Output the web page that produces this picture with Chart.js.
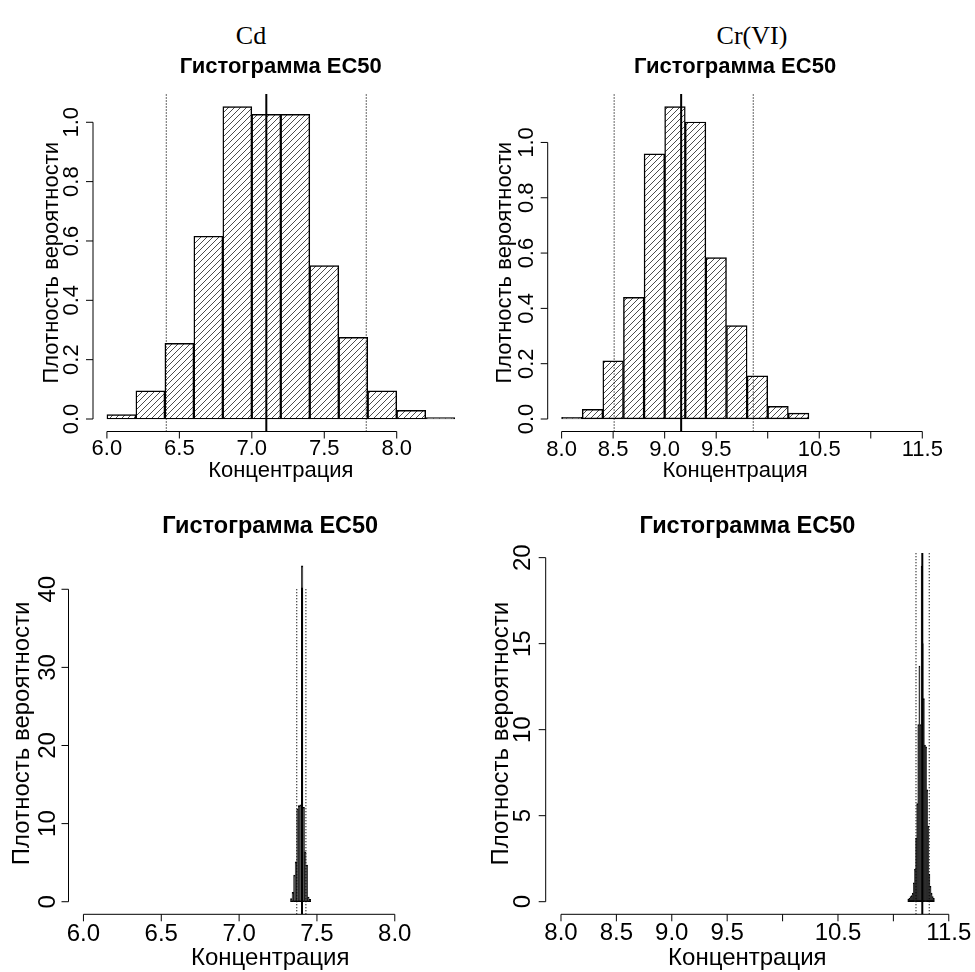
<!DOCTYPE html>
<html>
<head>
<meta charset="utf-8">
<script src="https://cdn.jsdelivr.net/npm/chart.js@4.4.1/dist/chart.umd.min.js"></script>
<style>
  html, body { margin: 0; padding: 0; background: #fff; }
  #page { position: relative; width: 975px; height: 972px; overflow: hidden; }
  .panel { position: absolute; }
  .metal {
    position: absolute;
    font-family: "Liberation Serif", "Times New Roman", serif;
    font-size: 26px;
    color: #000;
    transform: translate(-50%, -50%);
    white-space: nowrap;
  }
</style>
</head>
<body>
<div id="page">
  <div class="metal" style="left:251px; top:36px;">Cd</div>
  <div class="metal" style="left:752px; top:36px;">Cr(VI)</div>
  <div class="panel" style="left:0; top:0;"><canvas id="cdTop" width="487" height="486"></canvas></div>
  <div class="panel" style="left:487px; top:0;"><canvas id="crTop" width="488" height="486"></canvas></div>
  <div class="panel" style="left:0; top:486px;"><canvas id="cdBottom" width="487" height="486"></canvas></div>
  <div class="panel" style="left:487px; top:486px;"><canvas id="crBottom" width="488" height="486"></canvas></div>
</div>
<script>
// --- data ---

// Cd, upper histogram (bin 0.2)
const cdTopCenters = [6.1, 6.3, 6.5, 6.7, 6.9, 7.1, 7.3, 7.5, 7.7, 7.9, 8.1, 8.3];
const cdTopDensity = [0.015, 0.095, 0.255, 0.616, 1.053, 1.027, 1.027, 0.517, 0.275, 0.095, 0.029, 0.005];
const cdTopCI = [6.41, 7.79];
const cdTopMean = 7.10;

// Cr(VI), upper histogram (bin 0.2)
const crTopCenters = [8.1, 8.3, 8.5, 8.7, 8.9, 9.1, 9.3, 9.5, 9.7, 9.9, 10.1, 10.3];
const crTopDensity = [0.006, 0.035, 0.210, 0.440, 0.959, 1.130, 1.074, 0.584, 0.338, 0.156, 0.046, 0.021];
const crTopCI = [8.51, 9.86];
const crTopMean = 9.16;

// Cd, lower histogram (bin 0.01)
const cdBottomCenters = [7.335, 7.345, 7.355, 7.365, 7.375, 7.385, 7.395, 7.405, 7.415, 7.425, 7.435, 7.445, 7.455];
const cdBottomDensity = [0.4, 1.2, 3.4, 5.1, 11.9, 12.3, 12.4, 43.0, 12.1, 6.4, 4.7, 0.6, 0.3];
const cdBottomCI = [7.37, 7.429];
const cdBottomMean = 7.404;

// Cr(VI), lower histogram (bin 0.01)
const crBottomCenters = [11.135, 11.145, 11.155, 11.165,
                         11.175, 11.185, 11.195, 11.205, 11.215, 11.225, 11.235, 11.245, 11.255, 11.265,
                         11.275, 11.285, 11.295, 11.305, 11.315, 11.325, 11.335, 11.345, 11.355, 11.365];
const crBottomDensity = [0.15, 0.2, 0.3, 0.35,
                         0.5, 1.1, 1.9, 3.7, 5.7, 10.3, 13.7, 10.3, 19.5, 15.0,
                         11.8, 9.1, 9.0, 6.5, 4.4, 1.6, 0.9, 0.5, 0.3, 0.2];
const crBottomCI = [11.204, 11.324];
const crBottomMean = 11.261;

// tick values and labels
const cdXTicks = [6.0, 6.5, 7.0, 7.5, 8.0];
const cdXLabels = ["6.0", "6.5", "7.0", "7.5", "8.0"];
const crXTicks = [8.0, 8.5, 9.0, 9.5, 10.0, 10.5, 11.0, 11.5];
const crXLabels = ["8.0", "8.5", "9.0", "9.5", "", "10.5", "", "11.5"];
const topYTicks = [0, 0.2, 0.4, 0.6, 0.8, 1.0];
const topYLabels = ["0.0", "0.2", "0.4", "0.6", "0.8", "1.0"];
const cdBottomYTicks = [0, 10, 20, 30, 40];
const cdBottomYLabels = ["0", "10", "20", "30", "40"];
const crBottomYTicks = [0, 5, 10, 15, 20];
const crBottomYLabels = ["0", "5", "10", "15", "20"];

const mainTitle = "Гистограмма EC50";
const xTitle = "Концентрация";
const yTitle = "Плотность вероятности";

const FONT = '"Liberation Sans", Arial, Helvetica, sans-serif';

// diagonal hatching like R's density/angle=45
function hatch() {
  const c = document.createElement("canvas");
  c.width = 6;
  c.height = 6;
  const g = c.getContext("2d");
  g.strokeStyle = "#000";
  g.lineWidth = 0.7;
  g.beginPath();
  g.moveTo(-1, 7); g.lineTo(7, -1);
  g.moveTo(-1, 1); g.lineTo(1, -1);
  g.moveTo(5, 7); g.lineTo(7, 5);
  g.stroke();
  return g.createPattern(c, "repeat");
}

// R-style axes: line only between first and last tick, y labels parallel to axis
const rAxes = {
  id: "rAxes",
  afterDraw(chart, args, o) {
    const { ctx, chartArea: a, scales: { x, y } } = chart;
    ctx.save();
    ctx.strokeStyle = "#000";
    ctx.fillStyle = "#000";
    ctx.lineWidth = 1;
    ctx.font = o.size + "px " + FONT;
    ctx.textAlign = "center";
    ctx.textBaseline = "middle";

    // x axis
    const yb = a.bottom;
    ctx.beginPath();
    ctx.moveTo(x.getPixelForValue(o.xTicks[0]), yb);
    ctx.lineTo(x.getPixelForValue(o.xTicks[o.xTicks.length - 1]), yb);
    o.xTicks.forEach(v => {
      const px = x.getPixelForValue(v);
      ctx.moveTo(px, yb);
      ctx.lineTo(px, yb + 7);
    });
    ctx.stroke();
    o.xTicks.forEach((v, i) => {
      ctx.fillText(o.xLabels[i], x.getPixelForValue(v), yb + o.xLabelGap);
    });
    ctx.fillText(xTitle, (a.left + a.right) / 2, yb + o.xTitleGap);

    // y axis
    const xl = a.left;
    ctx.beginPath();
    ctx.moveTo(xl, y.getPixelForValue(o.yTicks[0]));
    ctx.lineTo(xl, y.getPixelForValue(o.yTicks[o.yTicks.length - 1]));
    o.yTicks.forEach(v => {
      const py = y.getPixelForValue(v);
      ctx.moveTo(xl, py);
      ctx.lineTo(xl - 7, py);
    });
    ctx.stroke();
    o.yTicks.forEach((v, i) => {
      ctx.save();
      ctx.translate(xl - o.yLabelGap, y.getPixelForValue(v));
      ctx.rotate(-Math.PI / 2);
      ctx.fillText(o.yLabels[i], 0, 0);
      ctx.restore();
    });
    ctx.save();
    ctx.translate(xl - o.yTitleGap, (a.top + a.bottom) / 2);
    ctx.rotate(-Math.PI / 2);
    ctx.fillText(yTitle, 0, 0);
    ctx.restore();

    ctx.restore();
  },
};

function vline(xv, y0, y1, dotted) {
  return {
    type: "line",
    data: [{ x: xv, y: y0 }, { x: xv, y: y1 }],
    borderColor: "#000",
    borderWidth: dotted ? 1.2 : 2,
    borderDash: dotted ? [1, 2] : [],
    pointRadius: 0,
    fill: false,
    order: 0,
  };
}

function histChart(id, p) {
  const bars = {
    type: "bar",
    data: p.centers.map((c, i) => ({ x: c, y: p.density[i] })),
    backgroundColor: p.fill || hatch(),
    borderColor: "#000",
    borderWidth: p.border,
    borderSkipped: false,
    barPercentage: 1,
    categoryPercentage: 1,
    order: 1,
  };
  const lines = [
    vline(p.ci[0], p.yMin, p.lineTop, true),
    vline(p.ci[1], p.yMin, p.lineTop, true),
    vline(p.mean, p.yMin, p.lineTop, false),
  ];
  return new Chart(document.getElementById(id), {
    type: "bar",
    data: { datasets: [bars, ...lines] },
    options: {
      responsive: false,
      animation: false,
      events: [],
      layout: { padding: p.padding },
      scales: {
        x: { type: "linear", display: false, min: p.xMin, max: p.xMax, offset: false },
        y: { type: "linear", display: false, min: p.yMin, max: p.yMax },
      },
      plugins: {
        legend: { display: false },
        tooltip: { enabled: false },
        title: {
          display: true,
          text: mainTitle,
          color: "#000",
          font: { family: FONT, size: p.titleSize, weight: "bold", lineHeight: 1.2 },
          padding: p.titlePadding,
        },
        rAxes: {
          size: p.fontSize,
          xTicks: p.xTicks, xLabels: p.xLabels,
          yTicks: p.yTicks, yLabels: p.yLabels,
          xLabelGap: p.xLabelGap, xTitleGap: p.xTitleGap,
          yLabelGap: p.yLabelGap, yTitleGap: p.yTitleGap,
        },
      },
    },
    plugins: [rAxes],
  });
}

// Cd, top
histChart("cdTop", {
  centers: cdTopCenters, density: cdTopDensity, ci: cdTopCI, mean: cdTopMean,
  xMin: 5.904, xMax: 8.496, yMin: -0.0421, yMax: 1.0953, lineTop: 1.0953,
  xTicks: cdXTicks, xLabels: cdXLabels, yTicks: topYTicks, yLabels: topYLabels,
  border: 0.8,
  padding: { left: 93, right: 18.4, top: 0, bottom: 54.5 },
  titleSize: 22, titlePadding: { top: 53.8, bottom: 13.8 },
  fontSize: 22, xLabelGap: 17, xTitleGap: 39, yLabelGap: 21, yTitleGap: 41,
});

// Cr(VI), top
histChart("crTop", {
  centers: crTopCenters, density: crTopDensity, ci: crTopCI, mean: crTopMean,
  xMin: 7.865, xMax: 11.502, yMin: -0.0452, yMax: 1.1752, lineTop: 1.1752,
  xTicks: crXTicks, xLabels: crXLabels, yTicks: topYTicks, yLabels: topYLabels,
  border: 0.8,
  padding: { left: 60.7, right: 52.5, top: 0, bottom: 54.5 },
  titleSize: 22, titlePadding: { top: 53.8, bottom: 13.8 },
  fontSize: 22, xLabelGap: 18, xTitleGap: 39, yLabelGap: 21, yTitleGap: 42.7,
});

// Cd, bottom
histChart("cdBottom", {
  centers: cdBottomCenters, density: cdBottomDensity, ci: cdBottomCI, mean: cdBottomMean,
  xMin: 5.904, xMax: 8.496, yMin: -1.61, yMax: 44.72, lineTop: 40.2,
  xTicks: cdXTicks, xLabels: cdXLabels, yTicks: cdBottomYTicks, yLabels: cdBottomYLabels,
  border: 1, fill: "#2a2a2a",
  padding: { left: 68.5, right: 15, top: 0, bottom: 57.7 },
  titleSize: 23.5, titlePadding: { top: 26.6, bottom: 11.6 },
  fontSize: 24, xLabelGap: 19.7, xTitleGap: 43.7, yLabelGap: 20.2, yTitleGap: 46,
});

// Cr(VI), bottom
histChart("crBottom", {
  centers: crBottomCenters, density: crBottomDensity, ci: crBottomCI, mean: crBottomMean,
  xMin: 7.862, xMax: 11.502, yMin: -0.733, yMax: 20.27, lineTop: 20.27,
  xTicks: crXTicks, xLabels: crXLabels, yTicks: crBottomYTicks, yLabels: crBottomYLabels,
  border: 1, fill: "#000",
  padding: { left: 58.7, right: 26, top: 0, bottom: 57.7 },
  titleSize: 23.5, titlePadding: { top: 26.6, bottom: 12.2 },
  fontSize: 24, xLabelGap: 19, xTitleGap: 43.7, yLabelGap: 22.4, yTitleGap: 44.4,
});
</script>
</body>
</html>
